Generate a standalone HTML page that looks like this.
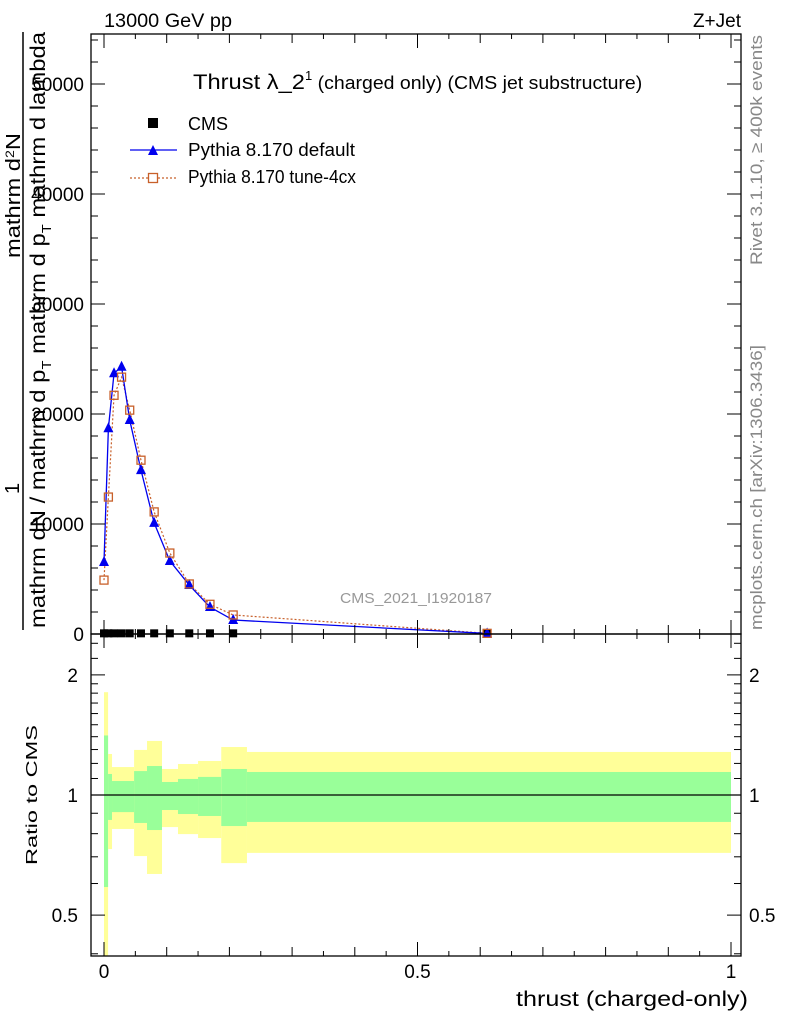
<!DOCTYPE html>
<html><head><meta charset="utf-8"><style>
html,body{margin:0;padding:0;background:#fff}
svg{display:block;font-family:"Liberation Sans",sans-serif}
</style></head><body>
<svg id="chart" width="786" height="1024" viewBox="0 0 786 1024">
<g id="bands"></g>
<g id="marks"></g>
<g id="axes"></g>
<text x="104" y="27" font-size="19" textLength="128" lengthAdjust="spacingAndGlyphs">13000 GeV pp</text>
<text x="741" y="27" font-size="19" text-anchor="end">Z+Jet</text>
<text x="193" y="89" font-size="21"><tspan textLength="112" lengthAdjust="spacingAndGlyphs">Thrust λ_2</tspan><tspan dy="-9" font-size="13">1</tspan><tspan dy="9" font-size="18" textLength="330" lengthAdjust="spacingAndGlyphs"> (charged only) (CMS jet substructure)</tspan></text>
<g>
<rect x="148" y="118" width="10" height="10" fill="#000"/>
<text x="188" y="130" font-size="18">CMS</text>
<line x1="130" y1="150" x2="177" y2="150" stroke="#0000ee" stroke-width="1.2"/>
<path d="M148,155 L158,155 L153,145 Z" fill="#0000ee"/>
<text x="188" y="156" font-size="18" textLength="167" lengthAdjust="spacingAndGlyphs">Pythia 8.170 default</text>
<line x1="130" y1="178" x2="177" y2="178" stroke="#c8602a" stroke-width="1.2" stroke-dasharray="2,2"/>
<rect x="148.5" y="173.5" width="9" height="9" fill="#fff" stroke="#c8602a" stroke-width="1.3"/>
<text x="188" y="183" font-size="18" textLength="168" lengthAdjust="spacingAndGlyphs">Pythia 8.170 tune-4cx</text>
</g>
<text x="340" y="603" font-size="15" fill="#999" textLength="152" lengthAdjust="spacingAndGlyphs">CMS_2021_I1920187</text>
<text transform="translate(762,265) rotate(-90)" font-size="17" fill="#888" textLength="230" lengthAdjust="spacingAndGlyphs">Rivet 3.1.10, ≥ 400k events</text>
<text transform="translate(762,630) rotate(-90)" font-size="17" fill="#888" textLength="285" lengthAdjust="spacingAndGlyphs">mcplots.cern.ch [arXiv:1306.3436]</text>
<g>
<line x1="23" y1="32" x2="23" y2="630" stroke="#000" stroke-width="1.5"/>
<text transform="translate(19,494) rotate(-90)" font-size="20">1</text>
<text transform="translate(20,258) rotate(-90)" font-size="20" textLength="125" lengthAdjust="spacingAndGlyphs">mathrm d<tspan dy="-6" font-size="12">2</tspan><tspan dy="6">N</tspan></text>
<text transform="translate(45,628) rotate(-90)" font-size="21" textLength="596" lengthAdjust="spacingAndGlyphs">mathrm dN / mathrm d p<tspan dy="6" font-size="13">T</tspan><tspan dy="-6"> mathrm d p</tspan><tspan dy="6" font-size="13">T</tspan><tspan dy="-6"> mathrm d lambda</tspan></text>
</g>
<text transform="translate(37,795) rotate(-90)" font-size="16" text-anchor="middle" textLength="140" lengthAdjust="spacingAndGlyphs">Ratio to CMS</text>
<text x="748" y="1006" font-size="21" text-anchor="end" textLength="232" lengthAdjust="spacingAndGlyphs">thrust (charged-only)</text>
</svg>
<script>
const xCenters=[0.0,0.007,0.016,0.028,0.041,0.059,0.080,0.105,0.136,0.169,0.206,0.611];
const cmsValues=[60,60,60,60,60,60,60,60,60,60,60,20];
const defaultValues=[6550,18700,23700,24300,19450,14900,10100,6640,4450,2450,1270,50];
const tuneValues=[4900,12450,21700,23350,20350,15800,11100,7360,4550,2700,1730,60];
const bandEdges=[0,0.0065,0.0128,0.048,0.0686,0.0925,0.118,0.150,0.187,0.228,1.0];
const yellowHi=[1.81,1.267,1.175,1.297,1.366,1.162,1.196,1.217,1.319,1.282];
const yellowLo=[0.39,0.732,0.822,0.703,0.634,0.831,0.798,0.780,0.675,0.716];
const greenHi=[1.41,1.129,1.084,1.148,1.182,1.078,1.097,1.11,1.162,1.142];
const greenLo=[0.588,0.866,0.906,0.851,0.817,0.917,0.896,0.886,0.836,0.856];
const mainTicks=[0,10000,20000,30000,40000,50000];
const mainTickLabels=["0","10000","20000","30000","40000","50000"];
const ratioTicks=[0.5,1,2];
const ratioTickLabels=["0.5","1","2"];
const xTicks=[0,0.5,1];
const xTickLabels=["0","0.5","1"];

const L=91,R=741,T=34,MB=634,RB=956;
const X=v=>104+v*627;
const Y=v=>634-v*0.011;
const RY=r=>795-399*Math.log10(r);
const NS="http://www.w3.org/2000/svg";
function mk(tag,attrs,parent){const e=document.createElementNS(NS,tag);for(const k in attrs)e.setAttribute(k,attrs[k]);parent.appendChild(e);return e;}
const bands=document.getElementById('bands'),marks=document.getElementById('marks'),axes=document.getElementById('axes');
const clampR=y=>Math.min(RB,Math.max(MB,y));
for(let i=0;i<yellowHi.length;i++){
  const x0=X(bandEdges[i]),x1=X(bandEdges[i+1]);
  const yb=mk('rect',{x:x0,y:clampR(RY(yellowHi[i])),width:x1-x0,height:clampR(RY(yellowLo[i]))-clampR(RY(yellowHi[i])),fill:'#ffff99'},bands);
  
  
  const gb=mk('rect',{x:x0,y:RY(greenHi[i]),width:x1-x0,height:RY(greenLo[i])-RY(greenHi[i]),fill:'#99ff99'},bands);
  
  
}
mk('line',{x1:L,x2:R,y1:RY(1),y2:RY(1),stroke:'#000','stroke-width':1.2},bands);
let dp=xCenters.map((x,i)=>X(x)+','+Y(tuneValues[i])).join(' ');
const tl=mk('polyline',{points:dp,fill:'none',stroke:'#c8602a','stroke-width':1.2,'stroke-dasharray':'2,2'},marks);


dp=xCenters.map((x,i)=>X(x)+','+Y(defaultValues[i])).join(' ');
const dl=mk('polyline',{points:dp,fill:'none',stroke:'#0000ee','stroke-width':1.3},marks);


xCenters.forEach((x,i)=>{
  const cx=X(x);
  const c=mk('rect',{x:cx-4,y:Y(cmsValues[i])-4,width:8,height:8,fill:'#000'},marks);
  
  
  const y=Y(defaultValues[i]);
  const t=mk('path',{d:`M${cx-5},${y+4} L${cx+5},${y+4} L${cx},${y-6} Z`,fill:'#0000ee'},marks);
  
  
  const y2=Y(tuneValues[i]);
  const s=mk('rect',{x:cx-4,y:y2-4,width:8,height:8,fill:'none',stroke:'#c8602a','stroke-width':1.3},marks);
  
  
});
mk('rect',{x:L,y:T,width:R-L,height:MB-T,fill:'none',stroke:'#000','stroke-width':1.3},axes);
mk('rect',{x:L,y:MB,width:R-L,height:RB-MB,fill:'none',stroke:'#000','stroke-width':1.3},axes);
for(let v=0;v<=54000;v+=2000){const y=Y(v);const len=v%10000===0?14:7;
  mk('line',{x1:L,x2:L+len,y1:y,y2:y,stroke:'#000'},axes);mk('line',{x1:R,x2:R-len,y1:y,y2:y,stroke:'#000'},axes);}
mainTicks.forEach((v,i)=>{const t=mk('text',{x:84,y:Y(v)+7,'font-size':19,'text-anchor':'end'},axes);t.textContent=mainTickLabels[i];
  
  });
const rminor=[0.4,0.5,0.6,0.7,0.8,0.9,1,1.1,1.2,1.3,1.4,1.5,1.6,1.7,1.8,1.9,2,2.2,2.4];
rminor.forEach(r=>{const y=RY(r);const len=ratioTicks.includes(r)?14:7;
  mk('line',{x1:L,x2:L+len,y1:y,y2:y,stroke:'#000'},axes);mk('line',{x1:R,x2:R-len,y1:y,y2:y,stroke:'#000'},axes);});
ratioTicks.forEach((r,i)=>{
  const t=mk('text',{x:78,y:RY(r)+7,'font-size':19,'text-anchor':'end'},axes);t.textContent=ratioTickLabels[i];
  
  
  const t2=mk('text',{x:749,y:RY(r)+7,'font-size':19},axes);t2.textContent=ratioTickLabels[i];
  
  });
for(let k=0;k<=20;k++){const v=k*0.05;const x=X(v);const len=k%10===0?14:(k%2===0?9:5);
  [[MB,-1],[T,1],[RB,-1],[MB,1]].forEach(([yb,d])=>mk('line',{x1:x,x2:x,y1:yb,y2:yb+d*len,stroke:'#000'},axes));}
xTicks.forEach((v,i)=>{const t=mk('text',{x:X(v),y:978,'font-size':19,'text-anchor':'middle'},axes);t.textContent=xTickLabels[i];
  
  });
</script>
</body></html>
